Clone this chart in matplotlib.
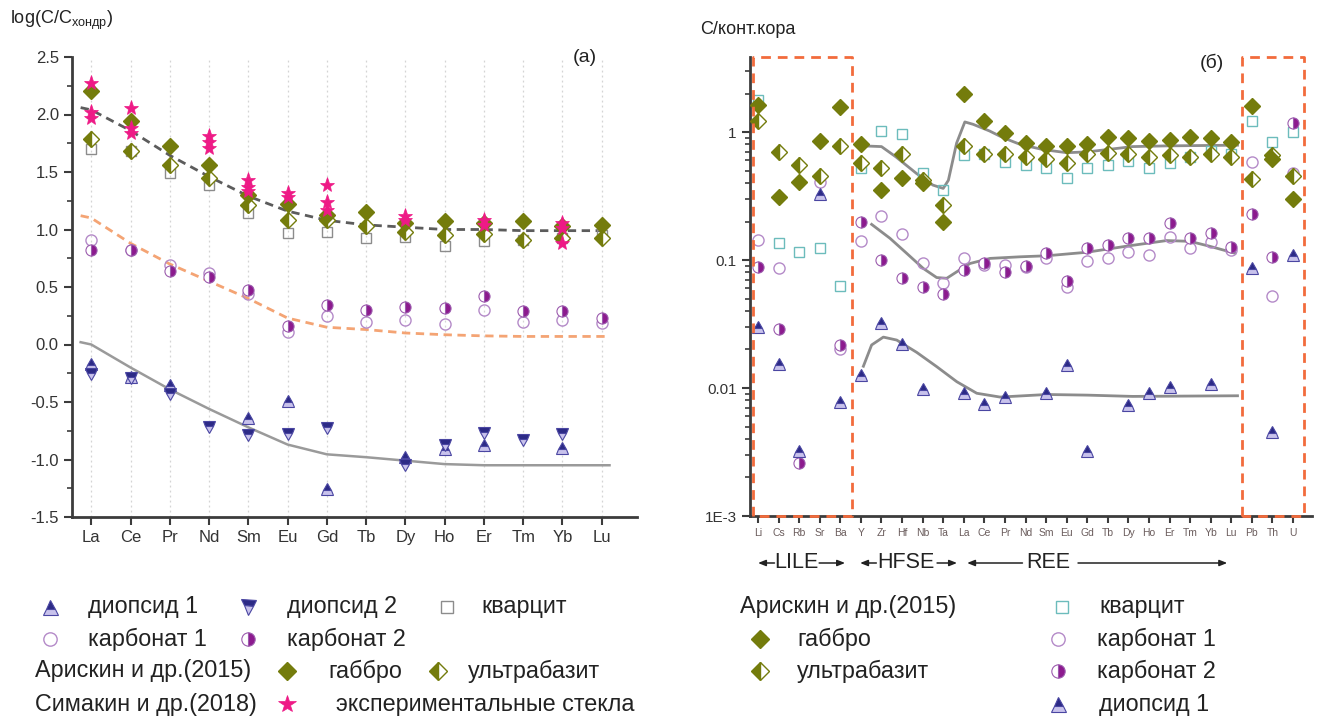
import numpy as np
import matplotlib
matplotlib.use('Agg')
import matplotlib.pyplot as plt
from matplotlib.transforms import blended_transform_factory

plt.rcParams['font.family'] = ['Liberation Sans', 'DejaVu Sans']
plt.rcParams['mathtext.fontset'] = 'custom'
plt.rcParams['mathtext.rm'] = 'Liberation Sans'
nan = np.nan

# ---------------- data: panel (a) ----------------
ree = ['La', 'Ce', 'Pr', 'Nd', 'Sm', 'Eu', 'Gd', 'Tb', 'Dy', 'Ho', 'Er', 'Tm', 'Yb', 'Lu']
gabbro_a = [2.20, 1.945, 1.725, 1.56, 1.30, 1.22, 1.13, 1.15, 1.06, 1.07, 1.06, 1.07, 1.03, 1.04]
ultra_a = [1.79, 1.68, 1.565, 1.45, 1.215, 1.085, 1.08, 1.03, 0.98, 0.95, 0.96, 0.91, 0.93, 0.93]
quartz_a = [1.70, 1.68, 1.495, 1.385, 1.14, 0.97, 0.98, 0.93, 0.935, 0.86, 0.90, 0.91, 0.93, 0.955]
carb1_a = [0.91, 0.82, 0.69, 0.62, 0.44, 0.107, 0.245, 0.20, 0.21, 0.18, 0.30, 0.20, 0.21, 0.185]
carb2_a = [0.82, 0.82, 0.635, 0.59, 0.47, 0.165, 0.34, 0.30, 0.325, 0.315, 0.42, 0.295, 0.29, 0.23]
diop1_a = [-0.17, -0.28, -0.35, nan, -0.635, -0.495, -1.26, nan, -0.98, -0.91, -0.87, nan, -0.90, nan]
diop2_a = [-0.26, -0.29, -0.43, -0.72, -0.79, -0.78, -0.73, nan, -1.05, -0.87, -0.77, -0.83, -0.78, nan]
glass1_a = [2.27, 2.06, nan, 1.81, 1.43, 1.32, 1.39, nan, 1.12, nan, 1.08, nan, 1.06, nan]
glass2_a = [2.02, 1.88, nan, 1.76, 1.37, 1.28, 1.24, nan, 1.08, nan, 1.04, nan, 1.01, nan]
glass3_a = [1.97, 1.84, nan, 1.71, 1.335, nan, 1.17, nan, nan, nan, nan, nan, 0.88, nan]

curve_x_a = [-0.27, 0, 1, 2, 3, 4, 5, 6, 7, 8, 9, 10, 11, 12, 13, 13.2]
trend_high_a = [2.06, 2.04, 1.86, 1.645, 1.46, 1.29, 1.16, 1.08, 1.04, 1.02, 1.00, 1.00, 0.99, 0.99, 0.99, 0.99]
trend_mid_a = [1.12, 1.10, 0.88, 0.70, 0.55, 0.40, 0.23, 0.15, 0.13, 0.10, 0.085, 0.075, 0.07, 0.07, 0.07, 0.07]
trend_low_a = [0.02, 0.0, -0.20, -0.39, -0.56, -0.72, -0.87, -0.955, -0.98, -1.01, -1.04, -1.05, -1.05, -1.05, -1.05, -1.05]

# ---------------- data: panel (б) ----------------
elems = ['Li', 'Cs', 'Rb', 'Sr', 'Ba', 'Y', 'Zr', 'Hf', 'Nb', 'Ta', 'La', 'Ce', 'Pr', 'Nd',
         'Sm', 'Eu', 'Gd', 'Tb', 'Dy', 'Ho', 'Er', 'Tm', 'Yb', 'Lu', 'Pb', 'Th', 'U']
gabbro_b = [1.63, 0.31, 0.41, 0.85, 1.57, 0.81, 0.35, 0.44, 0.40, 0.20, 1.98, 1.22, 0.98, 0.82,
            0.78, 0.78, 0.80, 0.92, 0.90, 0.85, 0.86, 0.92, 0.90, 0.83, 1.60, 0.62, 0.30]
ultra_b = [1.22, 0.70, 0.55, 0.45, 0.78, 0.57, 0.52, 0.67, 0.42, 0.27, 0.78, 0.68, 0.67, 0.64,
           0.62, 0.57, 0.67, 0.69, 0.67, 0.64, 0.66, 0.64, 0.67, 0.64, 0.43, 0.66, 0.45]
quartz_b = [1.78, 0.135, 0.116, 0.125, 0.063, 0.52, 1.02, 0.96, 0.48, 0.35, 0.66, 0.68, 0.58, 0.55,
            0.52, 0.44, 0.52, 0.55, 0.59, 0.52, 0.57, 0.64, 0.71, 0.68, 1.22, 0.84, 1.00]
carb1_b = [0.144, 0.087, nan, 0.41, 0.020, 0.14, 0.22, 0.16, 0.095, 0.066, 0.104, 0.091, 0.091, 0.088,
           0.104, 0.062, 0.099, 0.104, 0.115, 0.11, 0.152, 0.124, 0.138, 0.12, 0.58, 0.052, 0.48]
carb2_b = [0.089, 0.029, 0.0026, nan, 0.0216, 0.20, 0.10, 0.072, 0.062, 0.054, 0.083, 0.095, 0.081, 0.09,
           0.113, 0.069, 0.124, 0.131, 0.15, 0.15, 0.195, 0.15, 0.163, 0.126, 0.23, 0.105, 1.17]
diop1_b = [0.030, 0.0154, 0.0032, 0.33, 0.0078, 0.0126, 0.032, 0.022, 0.0099, nan, 0.0091, 0.0075, 0.0085, nan,
           0.0091, 0.015, 0.0032, nan, 0.0074, 0.0091, 0.0102, nan, 0.0107, nan, 0.086, 0.0045, 0.11]

fit1_x = [5.1, 6.0, 6.7, 7.7, 8.5, 9.0, 9.25, 9.65, 10.05, 10.45, 11.25, 11.75, 12.25, 12.75, 13.85, 15.0, 16.0, 18.2, 19.85, 23.3]
fit1_y = [0.78, 0.77, 0.64, 0.475, 0.385, 0.363, 0.42, 0.82, 1.20, 1.15, 1.02, 0.93, 0.86, 0.80, 0.73, 0.69, 0.70, 0.77, 0.78, 0.79]
fit2_x = [5.52, 6.41, 7.22, 8.03, 8.68, 9.17, 9.66, 10.3, 11.27, 12.73, 14.03, 15.97, 18.0, 19.86, 20.99, 21.96, 23.18]
fit2_y = [0.19, 0.148, 0.113, 0.086, 0.073, 0.072, 0.081, 0.094, 0.103, 0.106, 0.108, 0.115, 0.129, 0.142, 0.14, 0.128, 0.113]
fit3_x = [5.12, 5.52, 6.09, 6.74, 7.71, 8.68, 9.66, 10.63, 11.76, 14.03, 16.0, 18.2, 23.3]
fit3_y = [0.0148, 0.0217, 0.025, 0.0237, 0.019, 0.0147, 0.0112, 0.0091, 0.0085, 0.0089, 0.0088, 0.0086, 0.0087]

lile_range = (-0.24, 4.57)
pbthu_range = (23.52, 26.53)

# ---------------- styles ----------------
OLIVE = '#747c0c'
NAVY = '#2c2a86'
NAVY_ALT = '#c8c2ec'
PINK = '#ee1a86'
PURPLE = '#8c1a8e'
LILAC = '#b48ac8'
SPINE = '#3c3c3c'

st_gabbro = dict(marker='D', ms=8, mfc=OLIVE, mec=OLIVE, mew=1, ls='none')
st_ultra = dict(marker='D', ms=8, fillstyle='left', mfc=OLIVE, mfcalt='white', mec=OLIVE, mew=1, ls='none')
st_quartz_a = dict(marker='s', ms=7, fillstyle='none', mec='#8c8c8c', mew=1, ls='none')
st_quartz_b = dict(marker='s', ms=7, fillstyle='none', mec='#6cbcbc', mew=1, ls='none')
st_carb1 = dict(marker='o', ms=8, fillstyle='none', mec=LILAC, mew=1, ls='none')
st_carb2 = dict(marker='o', ms=8, fillstyle='right', mfc=PURPLE, mfcalt='white', mec='#9c5cae', mew=0.8, ls='none')
st_diop1 = dict(marker='^', ms=9, fillstyle='top', mfc=NAVY, mfcalt=NAVY_ALT, mec='#4a46a2', mew=0.8, ls='none')
st_diop2 = dict(marker='v', ms=9, fillstyle='top', mfc=NAVY, mfcalt=NAVY_ALT, mec='#4a46a2', mew=0.8, ls='none')
st_glass = dict(marker='*', ms=11, mfc=PINK, mec=PINK, mew=0.5, ls='none')

fig = plt.figure(figsize=(13.18, 7.19), dpi=100)

# ---------------- panel (a) ----------------
ax1 = fig.add_axes([72 / 1318, 1 - 517 / 719, 565 / 1318, 460 / 719])
xa = np.arange(len(ree))
for xv in xa:
    ax1.axvline(xv, color='#d4d4d4', lw=0.9, ls=(0, (1.5, 2.5)), zorder=0)
ax1.plot(curve_x_a, trend_high_a, color='#5c5c5c', lw=2, ls=(0, (3, 2)), zorder=2)
ax1.plot(curve_x_a, trend_mid_a, color='#f4a474', lw=2, ls=(0, (3, 2)), zorder=2)
ax1.plot(curve_x_a, trend_low_a, color='#9a9a9a', lw=1.8, zorder=2)
ax1.plot(xa, quartz_a, **st_quartz_a, zorder=3)
ax1.plot(xa, carb1_a, **st_carb1, zorder=3)
ax1.plot(xa, carb2_a, **st_carb2, zorder=4)
ax1.plot(xa, ultra_a, **st_ultra, zorder=4)
ax1.plot(xa, gabbro_a, **st_gabbro, zorder=4)
for g in (glass1_a, glass2_a, glass3_a):
    ax1.plot(xa, g, **st_glass, zorder=5)
ax1.plot(xa, diop1_a, **st_diop1, zorder=5)
ax1.plot(xa, diop2_a, **st_diop2, zorder=5)

ax1.set_xlim(-0.49, 13.9)
ax1.set_ylim(-1.5, 2.5)
ax1.set_xticks(xa)
ax1.set_xticklabels(ree)
ax1.set_yticks(np.arange(-1.5, 2.51, 0.5))
ax1.set_yticklabels(['-1.5', '-1.0', '-0.5', '0.0', '0.5', '1.0', '1.5', '2.0', '2.5'])
ax1.set_yticks(np.arange(-1.25, 2.5, 0.5), minor=True)
for s in ('top', 'right'):
    ax1.spines[s].set_visible(False)
for s in ('left', 'bottom'):
    ax1.spines[s].set_color(SPINE)
    ax1.spines[s].set_linewidth(2)
ax1.tick_params(axis='both', which='major', direction='out', length=6, width=1.5,
                color=SPINE, labelsize=12, labelcolor='#333333')
ax1.tick_params(axis='y', which='minor', direction='out', length=3.5, width=1.2, color=SPINE)
fig.text(585 / 1318, 1 - 58 / 719, '(a)', fontsize=14, ha='center', va='center', color='#222222')
fig.text(10 / 1318, 1 - 20 / 719, r'log(C/C$_{\mathregular{хондр}}$)', fontsize=13,
         ha='left', va='center', color='#222222')

# ---------------- panel (б) ----------------
ax2 = fig.add_axes([750 / 1318, 1 - 516 / 719, 562 / 1318, 459 / 719])
xb = np.arange(len(elems))
ax2.set_yscale('log')
ax2.set_xlim(-0.39, 26.92)
ax2.set_ylim(1e-3, 3.86)
ax2.plot(fit1_x, fit1_y, color='#8c8c8c', lw=2, zorder=2)
ax2.plot(fit2_x, fit2_y, color='#8c8c8c', lw=2, zorder=2)
ax2.plot(fit3_x, fit3_y, color='#8c8c8c', lw=2, zorder=2)
ax2.plot(xb, quartz_b, **st_quartz_b, zorder=3)
ax2.plot(xb, carb1_b, **st_carb1, zorder=3)
ax2.plot(xb, carb2_b, **st_carb2, zorder=4)
ax2.plot(xb, ultra_b, **st_ultra, zorder=4)
ax2.plot(xb, gabbro_b, **st_gabbro, zorder=4)
ax2.plot(xb, diop1_b, **st_diop1, zorder=5)

ybot, ytop = ax2.get_ylim()
for (x0, x1) in (lile_range, pbthu_range):
    ax2.plot([x0, x0, x1, x1, x0], [ybot, ytop, ytop, ybot, ybot], color='#f26b3c', lw=2,
             ls=(0, (3.5, 2.5)), clip_on=False, zorder=6)

ax2.set_xticks(xb)
ax2.set_xticklabels(elems)
ax2.set_yticks([1e-3, 1e-2, 1e-1, 1])
ax2.set_yticklabels(['1E-3', '0.01', '0.1', '1'])
for s in ('top', 'right'):
    ax2.spines[s].set_visible(False)
for s in ('left', 'bottom'):
    ax2.spines[s].set_color(SPINE)
    ax2.spines[s].set_linewidth(2)
ax2.tick_params(axis='x', which='major', direction='out', length=5, width=1.5, color=SPINE,
                labelsize=7.5, labelcolor='#6a5c5c')
ax2.tick_params(axis='y', which='major', direction='out', length=6, width=1.5, color=SPINE,
                labelsize=11, labelcolor='#333333')
ax2.tick_params(axis='y', which='minor', direction='out', length=3.5, width=1.2, color=SPINE)
fig.text(1212 / 1318, 1 - 63 / 719, '(б)', fontsize=14, ha='center', va='center', color='#222222')
fig.text(700 / 1318, 1 - 30 / 719, 'С/конт.кора', fontsize=13, ha='left', va='center', color='#222222')

# group labels under the axis
trans = blended_transform_factory(ax2.transData, fig.transFigure)
gy = 1 - 563 / 719
aprops = dict(arrowstyle='-|>,head_length=0.45,head_width=0.18', lw=1.1, color='#222222',
              shrinkA=0, shrinkB=0)
groups = [('LILE', 1.85, (0.8, 0.0), (2.97, 4.23)),
          ('HFSE', 7.2, (5.75, 4.96), (8.7, 9.67)),
          ('REE', 14.1, (12.85, 10.16), (15.55, 22.8))]
for name, xc, (l0, l1), (r0, r1) in groups:
    ax2.text(xc, gy, name, transform=trans, fontsize=15.5, ha='center', va='center', color='#222222')
    ax2.annotate('', xy=(l1, gy), xytext=(l0, gy), xycoords=trans, textcoords=trans,
                 arrowprops=aprops, annotation_clip=False)
    ax2.annotate('', xy=(r1, gy), xytext=(r0, gy), xycoords=trans, textcoords=trans,
                 arrowprops=aprops, annotation_clip=False)

# ---------------- legends (pixel overlay) ----------------
lax = fig.add_axes([0, 0, 1, 1])
lax.set_xlim(0, 1318)
lax.set_ylim(719, 0)
lax.axis('off')
lax.patch.set_alpha(0)
FS = 16.8
TC = '#222222'


def leg_marker(x, y, st):
    s = dict(st)
    s['ms'] = st['ms'] * 1.2
    lax.plot([x], [y], **s)


def leg_text(x, y, s):
    lax.text(x, y, s, fontsize=FS, ha='left', va='center', color=TC)


rows = [607, 639, 671, 704]
# left legend
leg_marker(50, rows[0], st_diop1); leg_text(88, rows[0], 'диопсид 1')
leg_marker(248, rows[0], st_diop2); leg_text(287, rows[0], 'диопсид 2')
leg_marker(447, rows[0], st_quartz_a); leg_text(481, rows[0], 'кварцит')
leg_marker(50, rows[1], st_carb1); leg_text(88, rows[1], 'карбонат 1')
leg_marker(248, rows[1], st_carb2); leg_text(287, rows[1], 'карбонат 2')
leg_text(35, rows[2], 'Арискин и др.(2015)')
leg_marker(287, rows[2], st_gabbro); leg_text(328, rows[2], 'габбро')
leg_marker(438, rows[2], st_ultra); leg_text(468, rows[2], 'ультрабазит')
leg_text(35, rows[3], 'Симакин и др.(2018)')
leg_marker(287, rows[3], st_glass); leg_text(336, rows[3], 'экспериментальные стекла')
# right legend
leg_text(740, rows[0], 'Арискин и др.(2015)')
leg_marker(760, rows[1], st_gabbro); leg_text(797, rows[1], 'габбро')
leg_marker(760, rows[2], st_ultra); leg_text(797, rows[2], 'ультрабазит')
leg_marker(1062, rows[0], st_quartz_b); leg_text(1099, rows[0], 'кварцит')
leg_marker(1058, rows[1], st_carb1); leg_text(1097, rows[1], 'карбонат 1')
leg_marker(1058, rows[2], st_carb2); leg_text(1097, rows[2], 'карбонат 2')
leg_marker(1058, rows[3], st_diop1); leg_text(1099, rows[3], 'диопсид 1')

fig.savefig('out.png', dpi=100)
